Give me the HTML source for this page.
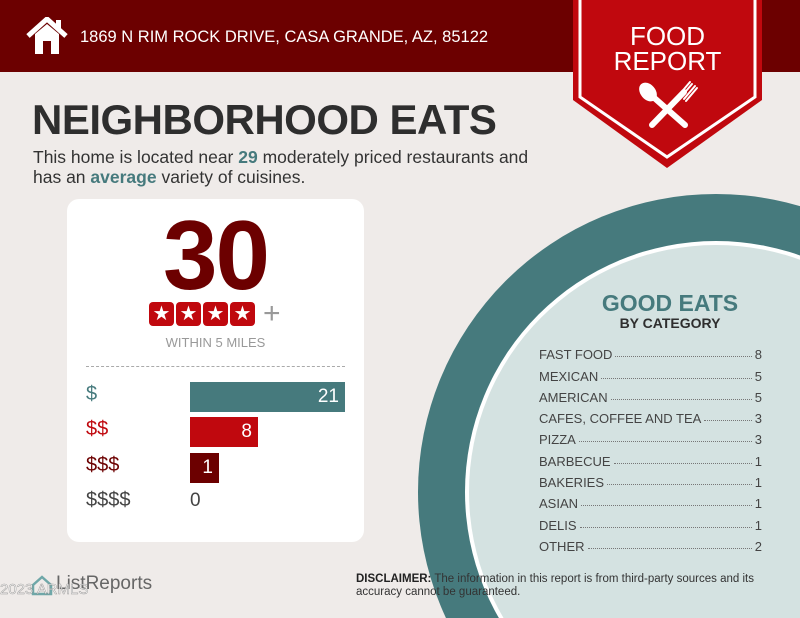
<!DOCTYPE html>
<html><head><meta charset="utf-8"><style>
html,body{margin:0;width:800px;height:618px;overflow:hidden}
body{background:#efebe9;font-family:"Liberation Sans",sans-serif;position:relative}
.a{position:absolute}
.cat{position:absolute;left:539px;width:223px;font-size:13px;color:#444;display:flex;align-items:baseline;white-space:nowrap}
.cat .d{flex:1;border-bottom:1px dotted #777;margin:0 3px;height:0;position:relative;top:-2px}
.st{width:25px;height:24px;background:#c0080e;border-radius:4px;color:#fff;font-size:20px;line-height:24px;text-align:center}
</style></head><body>
<div class="a" style="left:0;top:0;width:800px;height:72px;background:#6c0000"></div>
<svg class="a" style="left:26px;top:17px" width="42" height="38" viewBox="0 0 42 38"><path d="M2 19 L21 2 L40 19" fill="none" stroke="#fff" stroke-width="5"/><rect x="30" y="3" width="5" height="9" fill="#fff"/><path d="M9 17 L21 7 L33 17 V37 H25 V24 H17 V37 H9Z" fill="#fff"/></svg>
<div class="a" style="left:80px;top:28px;color:#fff;font-size:16.5px">1869 N RIM ROCK DRIVE, CASA GRANDE, AZ, 85122</div>
<svg class="a" style="left:0;top:0" width="800" height="618">
<circle cx="716" cy="492" r="298" fill="#467a7d"/>
<circle cx="716" cy="492" r="251" fill="#fff"/>
<circle cx="716" cy="492" r="247" fill="#d4e2e1"/>
<polygon points="573,0 762,0 762,100 667,168 573,100" fill="#c0080e"/>
<polyline points="580,0 580,97 667,157 755,97 755,0" fill="none" stroke="#fff" stroke-width="3"/>
<g stroke="#fff" stroke-linecap="round" fill="#fff">
<line x1="651" y1="95" x2="685" y2="125" stroke-width="6"/>
<line x1="684" y1="92" x2="652" y2="125" stroke-width="6"/>
<ellipse cx="648" cy="92" rx="7" ry="10" transform="rotate(-40 648 92)"/>
<path d="M681 97 L692 84 M684 99 L695 86 M686 101 L697 88 M679 95 L690 82" stroke-width="2"/>
</g>
</svg>
<div class="a" style="left:573px;top:24px;width:189px;text-align:center;color:#fff;font-size:26px;line-height:25px">FOOD<br>REPORT</div>
<div class="a" style="left:32px;top:96px;font-size:42px;font-weight:bold;color:#2e2e2e;letter-spacing:-0.5px">NEIGHBORHOOD EATS</div>
<div class="a" style="left:33px;top:147px;font-size:17.5px;line-height:20px;color:#333;white-space:nowrap">This home is located near <b style="color:#467a7d">29</b> moderately priced restaurants and<br>has an <b style="color:#467a7d">average</b> variety of cuisines.</div>
<div class="a" style="left:67px;top:199px;width:297px;height:343px;background:#fff;border-radius:12px"></div>
<div class="a" style="left:67px;top:200px;width:297px;text-align:center;font-size:98px;font-weight:bold;color:#6c0000;letter-spacing:-2px;line-height:110px">30</div>
<div class="a" style="left:149px;top:302px;display:flex;gap:2px">
<span class="st">★</span><span class="st">★</span><span class="st">★</span><span class="st">★</span><span style="color:#999;font-size:30px;line-height:24px;margin-left:6px">+</span></div>
<div class="a" style="left:67px;top:335px;width:297px;text-align:center;font-size:13px;color:#999">WITHIN 5 MILES</div>
<div class="a" style="left:86px;top:366px;width:259px;border-top:1px dashed #aaa"></div>
<div class="a" style="left:86px;top:383px;font-size:20px;color:#467a7d">$</div>
<div class="a" style="left:86px;top:418px;font-size:20px;color:#c0080e">$$</div>
<div class="a" style="left:86px;top:454px;font-size:20px;color:#6c0000">$$$</div>
<div class="a" style="left:86px;top:489px;font-size:20px;color:#444">$$$$</div>
<div class="a" style="left:190px;top:382px;width:155px;height:30px;background:#467a7d;color:#fff;font-size:19px;text-align:right;line-height:30px;box-sizing:border-box;padding-right:6px">21</div>
<div class="a" style="left:190px;top:417px;width:68px;height:30px;background:#c0080e;color:#fff;font-size:19px;text-align:right;line-height:30px;box-sizing:border-box;padding-right:6px">8</div>
<div class="a" style="left:190px;top:453px;width:29px;height:30px;background:#6c0000;color:#fff;font-size:19px;text-align:right;line-height:30px;box-sizing:border-box;padding-right:6px">1</div>
<div class="a" style="left:190px;top:490px;font-size:19px;color:#444">0</div>
<div class="a" style="left:560px;top:290px;width:220px;text-align:center;font-size:23px;font-weight:bold;color:#467a7d">GOOD EATS</div>
<div class="a" style="left:560px;top:315px;width:220px;text-align:center;font-size:14px;font-weight:bold;color:#2e2e2e">BY CATEGORY</div>
<div class="cat" style="top:347px">FAST FOOD<span class="d"></span>8</div>
<div class="cat" style="top:369px">MEXICAN<span class="d"></span>5</div>
<div class="cat" style="top:390px">AMERICAN<span class="d"></span>5</div>
<div class="cat" style="top:411px">CAFES, COFFEE AND TEA<span class="d"></span>3</div>
<div class="cat" style="top:432px">PIZZA<span class="d"></span>3</div>
<div class="cat" style="top:454px">BARBECUE<span class="d"></span>1</div>
<div class="cat" style="top:475px">BAKERIES<span class="d"></span>1</div>
<div class="cat" style="top:496px">ASIAN<span class="d"></span>1</div>
<div class="cat" style="top:518px">DELIS<span class="d"></span>1</div>
<div class="cat" style="top:539px">OTHER<span class="d"></span>2</div>
<div class="a" style="left:356px;top:573px;font-size:11.5px;line-height:13px;color:#333;white-space:nowrap"><b style="color:#222">DISCLAIMER:</b> The information in this report is from third-party sources and its<br>accuracy cannot be guaranteed.</div>
<div class="a" style="left:56px;top:573px;font-size:19px;color:#666">ListReports</div>
<svg class="a" style="left:30px;top:574px" width="24" height="22"><path d="M3 11 L12 3 L21 11 V20 H3Z" fill="none" stroke="#6fa7a8" stroke-width="2.5"/></svg>
<div class="a" style="left:0;top:581px;font-size:15px;color:#fff;opacity:.8;-webkit-text-stroke:0.5px #888">2023 ARMLS</div>
</body></html>
